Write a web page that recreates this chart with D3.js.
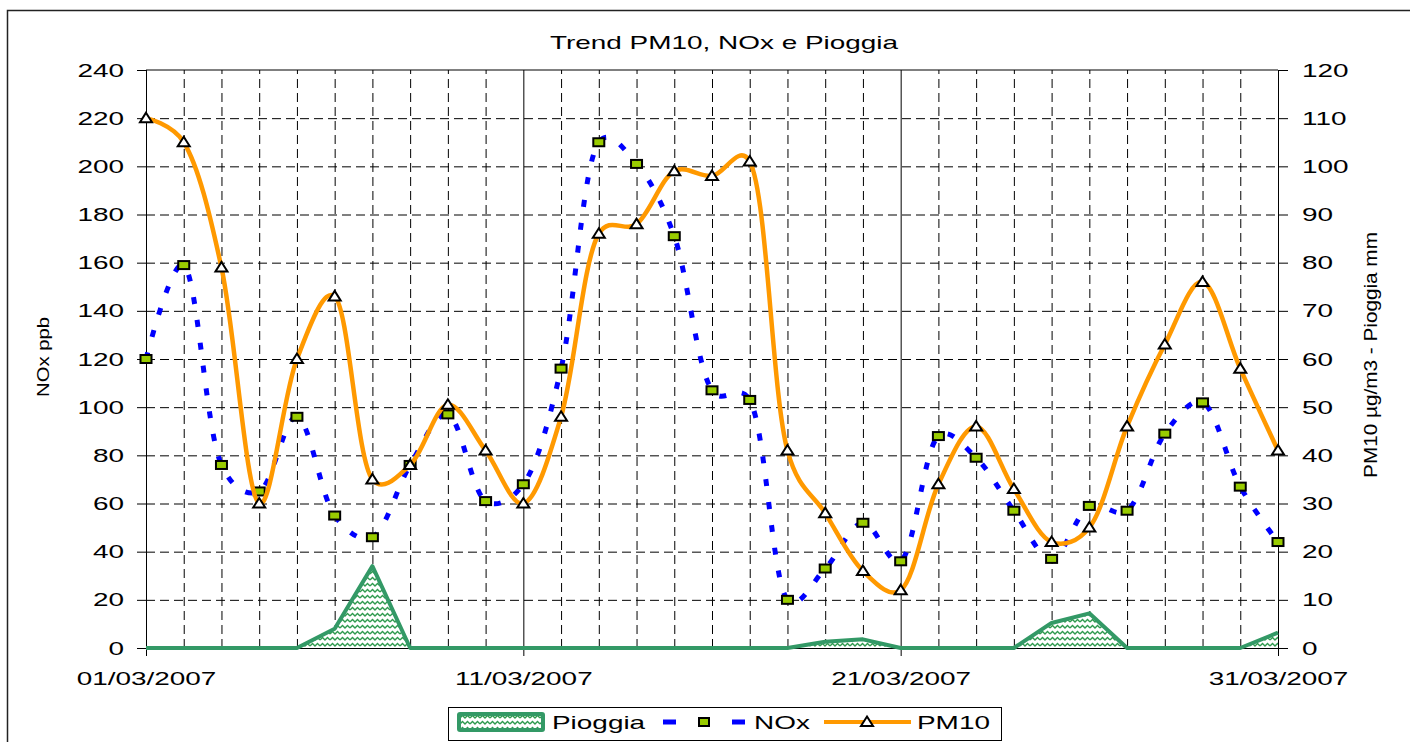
<!DOCTYPE html>
<html>
<head>
<meta charset="utf-8">
<script src="https://cdn.jsdelivr.net/npm/d3@7/dist/d3.min.js"></script>
<style>
  html, body { margin: 0; padding: 0; background: #fff; }
  svg { display: block; }
  text { font-family: "Liberation Sans", Arial, sans-serif; fill: #000; }
</style>
</head>
<body>
<svg id="chart" width="1410" height="742"></svg>
<script>
// ---------------- DATA ----------------
const dateLabels = ["01/03/2007","02/03/2007","03/03/2007","04/03/2007","05/03/2007","06/03/2007","07/03/2007","08/03/2007","09/03/2007","10/03/2007",
  "11/03/2007","12/03/2007","13/03/2007","14/03/2007","15/03/2007","16/03/2007","17/03/2007","18/03/2007","19/03/2007","20/03/2007",
  "21/03/2007","22/03/2007","23/03/2007","24/03/2007","25/03/2007","26/03/2007","27/03/2007","28/03/2007","29/03/2007","30/03/2007","31/03/2007"];
const majorTickLabels = ["01/03/2007","11/03/2007","21/03/2007","31/03/2007"];
// PM10 (µg/m3, right axis)
const pm10 = [110,105,79,30,60,73,35,38,50.5,41,30,48,86,88,99,98,101,41,28,16,12,34,46,33,22,25,46,63,76,58,41];
// NOx (ppb, left axis)
const nox = [120,159,76,65,96,55,46,76,97,61,68,116,210,201,171,107,103,20,33,52,36,88,79,57,37,59,57,89,102,67,44];
// Pioggia (mm, right axis)
const pioggia = [0,0,0,0,0,4,17,0,0,0,0,0,0,0,0,0,0,0,1.3,1.8,0,0,0,0,5.2,7.2,0,0,0,0,3.2];
const leftTicks = [0,20,40,60,80,100,120,140,160,180,200,220,240];
const rightTicks = [0,10,20,30,40,50,60,70,80,90,100,110,120];

const title = "Trend PM10, NOx e Pioggia";
const leftLabel = "NOx ppb";
const rightLabel = "PM10 µg/m3 - Pioggia mm";
const seriesNames = ["Pioggia","NOx","PM10"];

// ---------------- LAYOUT ----------------
const X0 = 146, X1 = 1278, Y0 = 648, Y1 = 70;
const K = 1.47; // horizontal text stretch
const FS = 19;
const GREEN = "#339966", BLUE = "#0000ff", ORANGE = "#ff9900", SQ = "#99cc00";

const parse = d3.utcParse("%d/%m/%Y");
const dates = dateLabels.map(parse);
const majorDates = majorTickLabels.map(parse);

const svg = d3.select("#chart");
svg.append("rect").attr("width",1410).attr("height",742).attr("fill","#fff");

// outer frame
svg.append("rect").attr("x",7.5).attr("y",10.5).attr("width",1430).attr("height",780)
  .attr("fill","none").attr("stroke","#222").attr("stroke-width",1.5);

const x = d3.scaleUtc().domain([dates[0], dates[dates.length-1]]).range([X0, X1]);
const yL = d3.scaleLinear().domain([0,240]).range([Y0, Y1]);
const yR = d3.scaleLinear().domain([0,120]).range([Y0, Y1]);

function stretch(sel, k) {
  sel.each(function() {
    const t = d3.select(this);
    const tx = +t.attr("x") || 0, ty = +t.attr("y") || 0;
    t.attr("x", 0).attr("y", 0).attr("transform", `translate(${tx},${ty}) scale(${k},1)`);
  });
}

// pattern
const defs = svg.append("defs");
const pat = defs.append("pattern").attr("id","wave").attr("patternUnits","userSpaceOnUse")
  .attr("width",10).attr("height",6);
pat.append("rect").attr("width",10).attr("height",6).attr("fill","#fff");
pat.append("path").attr("d","M0,4 L2.5,1.5 L5,4 L7.5,1.5 L10,4")
  .attr("fill","none").attr("stroke","#2e9a4e").attr("stroke-width",1.4);

// ---------------- GRID ----------------
const minorDates = dates.filter(d => !majorDates.some(m => +m === +d));
const gGrid = svg.append("g");
gGrid.append("g").attr("transform",`translate(0,${Y0})`)
  .call(d3.axisBottom(x).tickValues(minorDates).tickSize(-(Y0-Y1)).tickFormat(""))
  .call(g => g.select(".domain").remove())
  .call(g => g.selectAll("line").attr("stroke","#000").attr("stroke-dasharray","9,5"));
gGrid.append("g").attr("transform",`translate(${X0},0)`)
  .call(d3.axisLeft(yL).tickValues(leftTicks.filter(v => v>0 && v<240)).tickSize(-(X1-X0)).tickFormat(""))
  .call(g => g.select(".domain").remove())
  .call(g => g.selectAll("line").attr("stroke","#000").attr("stroke-dasharray","9,5"));
// major vertical lines (solid)
gGrid.append("g").attr("transform",`translate(0,${Y0})`)
  .call(d3.axisBottom(x).tickValues(majorDates).tickSize(-(Y0-Y1)).tickFormat(""))
  .call(g => g.select(".domain").remove())
  .call(g => g.selectAll("line").attr("stroke","#000"));
// top border
svg.append("line").attr("x1",X0).attr("x2",X1).attr("y1",yL(240)).attr("y2",yL(240)).attr("stroke","#000");

// ---------------- AXES ----------------
const axL = svg.append("g").attr("transform",`translate(${X0},0)`)
  .call(d3.axisLeft(yL).tickValues(leftTicks).tickSize(9).tickSizeOuter(0).tickPadding(13));
const axR = svg.append("g").attr("transform",`translate(${X1},0)`)
  .call(d3.axisRight(yR).tickValues(rightTicks).tickSize(10).tickSizeOuter(0).tickPadding(14));
const axB = svg.append("g").attr("transform",`translate(0,${Y0})`)
  .call(d3.axisBottom(x).tickValues(majorDates).tickSize(8).tickSizeOuter(0).tickPadding(15.5)
    .tickFormat(d3.utcFormat("%d/%m/%Y")));
[axL, axR, axB].forEach(a => {
  a.attr("font-size", null).attr("font-family", null);
  a.selectAll("text").style("font-size", FS + "px").style("font-family","'Liberation Sans', Arial, sans-serif");
  a.selectAll("line").attr("stroke","#000");
  a.select(".domain").attr("stroke","#000");
  stretch(a.selectAll("text"), K);
});

// ---------------- SERIES ----------------
const curve = d3.curveCatmullRom.alpha(0.25);

// Pioggia area
const areaGen = d3.area().x((d,i) => x(dates[i])).y0(Y0).y1(d => yR(d));
const lineGenR = d3.line().x((d,i) => x(dates[i])).y(d => yR(d));
svg.append("path").datum(pioggia).attr("d", areaGen).attr("fill","url(#wave)");
svg.append("path").datum(pioggia).attr("d", lineGenR).attr("fill","none")
  .attr("stroke",GREEN).attr("stroke-width",4).attr("stroke-linejoin","round");

// NOx
const lineNox = d3.line().x((d,i) => x(dates[i])).y(d => yL(d)).curve(curve);
svg.append("path").datum(nox).attr("d", lineNox).attr("fill","none")
  .attr("stroke",BLUE).attr("stroke-width",5).attr("stroke-dasharray","7,16");
svg.append("g").selectAll("rect").data(nox).join("rect")
  .attr("x",(d,i) => x(dates[i]) - 5.5).attr("y", d => yL(d) - 4)
  .attr("width",11).attr("height",8).attr("fill",SQ).attr("stroke","#000").attr("stroke-width",2);

// PM10
const linePm = d3.line().x((d,i) => x(dates[i])).y(d => yR(d)).curve(curve);
svg.append("path").datum(pm10).attr("d", linePm).attr("fill","none")
  .attr("stroke",ORANGE).attr("stroke-width",4.5);
const tri = "M0,-5.5 L6,4 L-6,4 Z";
svg.append("g").selectAll("path").data(pm10).join("path")
  .attr("transform",(d,i) => `translate(${x(dates[i])},${yR(d)})`)
  .attr("d", tri).attr("fill","#fff").attr("stroke","#000").attr("stroke-width",2).attr("stroke-linejoin","miter");

// ---------------- TEXTS ----------------
function addText(str, tx, ty, anchor, fs, k) {
  const t = svg.append("text").attr("text-anchor", anchor).style("font-size", fs + "px").text(str);
  t.attr("transform", `translate(${tx},${ty}) scale(${k},1)`);
  return t;
}
addText(title, 724, 49, "middle", FS, K);

function addVText(str, cx, cy, fs, len) {
  const t = svg.append("text").attr("text-anchor","middle").style("font-size", fs + "px").text(str);
  const nat = t.node().getComputedTextLength();
  t.attr("transform", `translate(${cx},${cy}) rotate(-90) scale(${len/nat},1)`);
  return t;
}
addVText(leftLabel, 49, 357, 17, 80);
addVText(rightLabel, 1377, 355, 18, 246);

// ---------------- LEGEND ----------------
const lg = svg.append("g");
lg.append("rect").attr("x",448.5).attr("y",707.5).attr("width",553).attr("height",33)
  .attr("fill","#fff").attr("stroke","#000").attr("stroke-width",1);
const ly = 722;
lg.append("rect").attr("x",459).attr("y",714).attr("width",84).attr("height",16)
  .attr("fill","url(#wave)").attr("stroke",GREEN).attr("stroke-width",4).attr("rx",1);
addText(seriesNames[0], 552, ly + 7, "start", FS, K);
lg.append("line").attr("x1",663).attr("x2",676).attr("y1",ly).attr("y2",ly).attr("stroke",BLUE).attr("stroke-width",5);
lg.append("line").attr("x1",732).attr("x2",745).attr("y1",ly).attr("y2",ly).attr("stroke",BLUE).attr("stroke-width",5);
lg.append("rect").attr("x",699).attr("y",ly-4).attr("width",10).attr("height",8)
  .attr("fill",SQ).attr("stroke","#000").attr("stroke-width",2);
addText(seriesNames[1], 754, ly + 7, "start", FS, K);
lg.append("line").attr("x1",824).attr("x2",911).attr("y1",ly).attr("y2",ly).attr("stroke",ORANGE).attr("stroke-width",4);
lg.append("path").attr("transform",`translate(867,${ly})`).attr("d",tri)
  .attr("fill","#fff").attr("stroke","#000").attr("stroke-width",2);
addText(seriesNames[2], 917, ly + 7, "start", FS, K);
</script>
</body>
</html>
